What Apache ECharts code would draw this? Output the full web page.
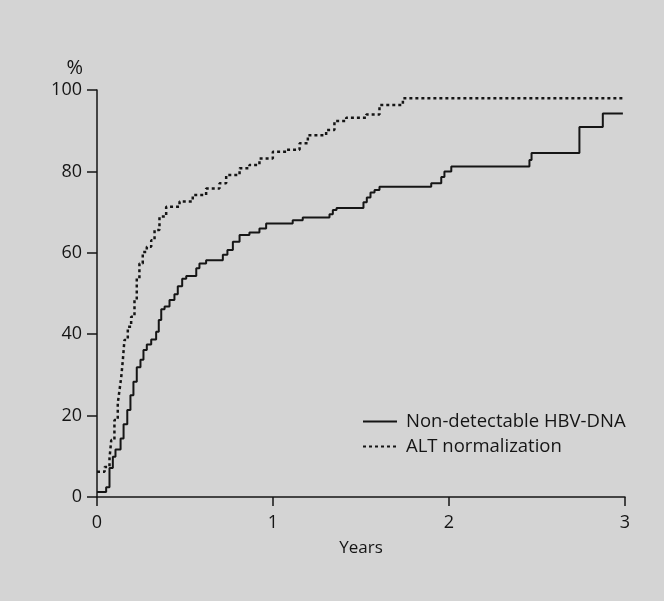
<!DOCTYPE html>
<html>
<head>
<meta charset="utf-8">
<script src="https://cdn.jsdelivr.net/npm/echarts@6/dist/echarts.min.js"></script>
<style>html,body{margin:0;padding:0;background:#d4d4d4}#c{width:664px;height:601px}</style>
</head>
<body>
<div id="c"></div>
<script>
// Non-detectable HBV-DNA: step times (years) and cumulative % after each step
const hbvYears = [0, 0.052, 0.071, 0.090, 0.105, 0.134, 0.151, 0.172, 0.190, 0.207, 0.226, 0.247, 0.264, 0.283, 0.308, 0.336, 0.351, 0.365, 0.384, 0.412, 0.440, 0.459, 0.484, 0.507, 0.564, 0.582, 0.620, 0.715, 0.741, 0.772, 0.810, 0.866, 0.923, 0.961, 1.112, 1.169, 1.321, 1.340, 1.361, 1.514, 1.533, 1.554, 1.577, 1.605, 1.899, 1.956, 1.974, 2.013, 2.457, 2.469, 2.741, 2.874, 2.988];
const hbvPct = [1.2, 2.4, 7.1, 9.9, 11.7, 14.4, 17.9, 21.4, 25.0, 28.3, 31.9, 33.7, 36.1, 37.5, 38.7, 40.6, 43.5, 46.1, 46.8, 48.4, 49.8, 51.8, 53.6, 54.3, 56.2, 57.4, 58.2, 59.5, 60.7, 62.7, 64.4, 65.0, 66.0, 67.2, 68.0, 68.7, 69.5, 70.5, 71.0, 72.4, 73.6, 74.8, 75.4, 76.2, 77.1, 78.6, 80.0, 81.2, 82.8, 84.5, 90.9, 94.2, 94.2];
// ALT normalization
const altYears = [0, 0.043, 0.071, 0.081, 0.099, 0.118, 0.128, 0.138, 0.147, 0.156, 0.175, 0.194, 0.213, 0.226, 0.241, 0.260, 0.283, 0.308, 0.327, 0.355, 0.393, 0.469, 0.544, 0.620, 0.696, 0.734, 0.810, 0.866, 0.923, 0.999, 1.075, 1.151, 1.198, 1.302, 1.349, 1.416, 1.530, 1.605, 1.738, 2.988];
const altPct = [6.2, 7.4, 9.5, 14.0, 18.9, 23.0, 26.3, 29.6, 33.7, 38.6, 41.8, 44.3, 48.4, 53.7, 57.4, 60.2, 61.5, 63.1, 65.6, 68.9, 71.3, 72.6, 74.2, 75.8, 77.1, 79.1, 80.8, 81.6, 83.2, 84.8, 85.3, 86.9, 88.9, 90.2, 92.4, 93.2, 94.0, 96.3, 98.0, 98.0];
const seriesNames = ['Non-detectable HBV-DNA', 'ALT normalization'];
const xTicks = ['0', '1', '2', '3'];

const FONT = '"Open Sans", "Noto Sans", sans-serif';
const ink = '#151515';
const chart = echarts.init(document.getElementById('c'));
chart.setOption({
  backgroundColor: '#d4d4d4',
  animation: false,
  grid: { left: 97, top: 90, width: 528, height: 407, containLabel: false },
  xAxis: {
    type: 'value', min: 0, max: 3, interval: 1,
    name: 'Years', nameLocation: 'middle', nameGap: 43,
    nameTextStyle: { color: ink, fontSize: 17, fontFamily: FONT },
    axisLine: { show: true, onZero: false, lineStyle: { color: ink, width: 1.5 } },
    axisTick: { show: true, length: 9, lineStyle: { color: ink, width: 1.5 } },
    axisLabel: { color: ink, fontSize: 18, fontFamily: FONT, margin: 17, formatter: v => xTicks[v] },
    splitLine: { show: false }
  },
  yAxis: {
    type: 'value', min: 0, max: 100, interval: 20,
    name: '%', nameLocation: 'end', nameGap: 12,
    nameTextStyle: { color: ink, fontSize: 20, fontFamily: FONT, align: 'right', padding: [0, 14, 0, 0] },
    axisLine: { show: true, lineStyle: { color: ink, width: 1.5 } },
    axisTick: { show: true, length: 10, lineStyle: { color: ink, width: 1.5 } },
    axisLabel: { color: ink, fontSize: 18, fontFamily: FONT, margin: 15 },
    splitLine: { show: false }
  },
  legend: {
    orient: 'vertical', left: 357, top: 407, itemGap: 6, itemWidth: 34, itemHeight: 14,
    itemStyle: { opacity: 0 },
    textStyle: { color: ink, fontSize: 18.5, fontFamily: FONT, padding: [0, 0, 0, 4] },
    data: seriesNames
  },
  series: [
    {
      name: seriesNames[0], type: 'line', step: 'end', showSymbol: false, symbol: 'none',
      lineStyle: { color: ink, width: 2 }, itemStyle: { color: ink },
      data: hbvYears.map((t, i) => [t, hbvPct[i]])
    },
    {
      name: seriesNames[1], type: 'line', step: 'end', showSymbol: false, symbol: 'none',
      lineStyle: { color: ink, width: 2.5, type: [3, 3] }, itemStyle: { color: ink },
      data: altYears.map((t, i) => [t, altPct[i]])
    }
  ]
});
</script>
</body>
</html>
